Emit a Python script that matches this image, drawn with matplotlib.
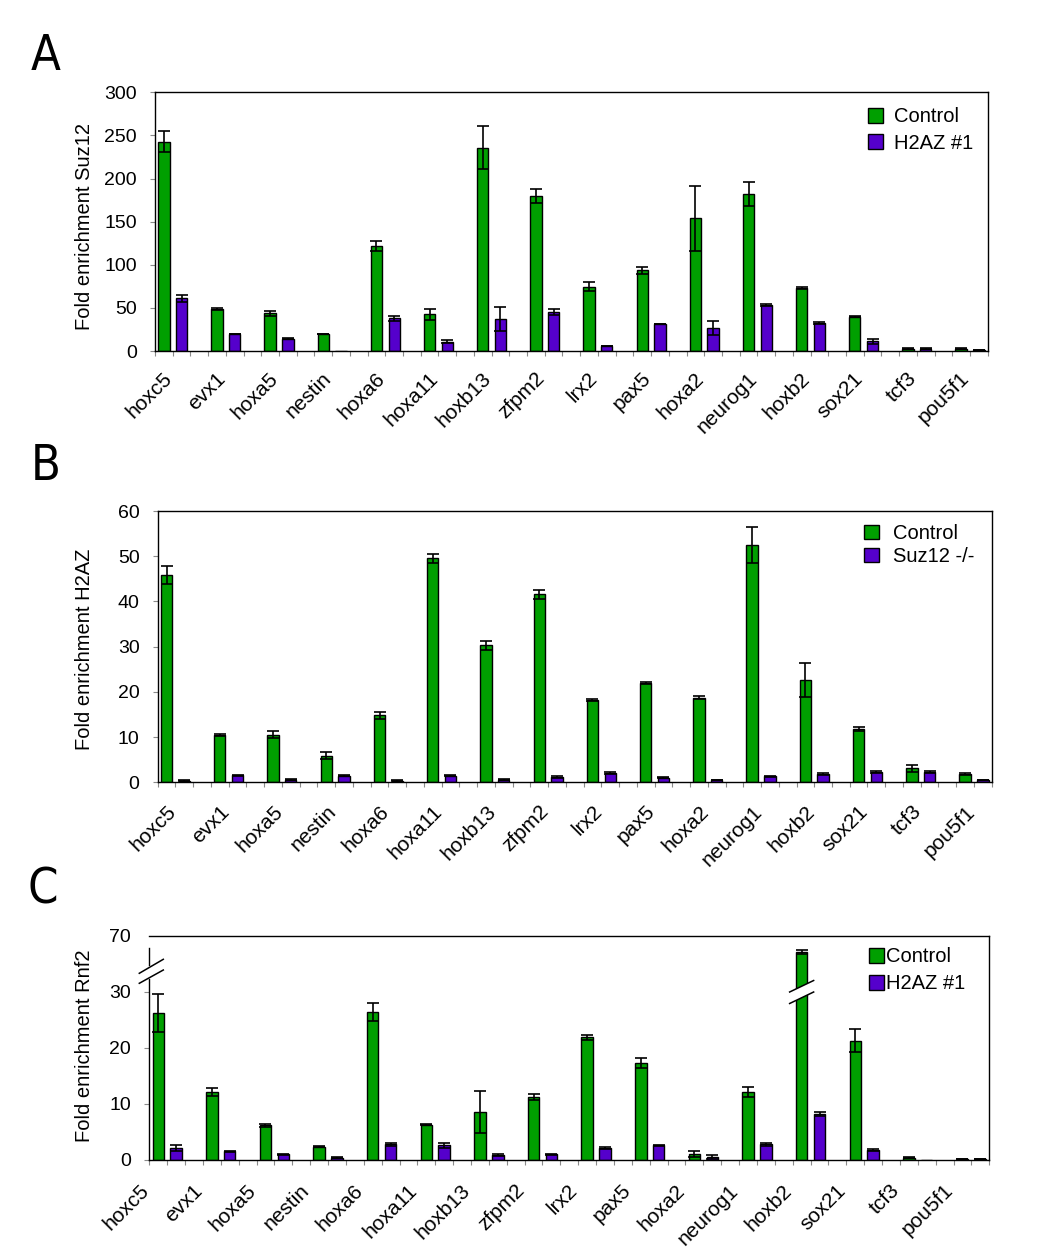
import numpy as np
import matplotlib
matplotlib.use('Agg')
import matplotlib.pyplot as plt
import matplotlib.transforms as mtransforms
from matplotlib.patches import Polygon
from matplotlib.lines import Line2D

# ---------------- data ----------------
genes = ['hoxc5', 'evx1', 'hoxa5', 'nestin', 'hoxa6', 'hoxa11', 'hoxb13', 'zfpm2',
         'lrx2', 'pax5', 'hoxa2', 'neurog1', 'hoxb2', 'sox21', 'tcf3', 'pou5f1']

# Panel A: Suz12 enrichment
a_control = [242.8, 48.7, 43.7, 19.7, 122.0, 42.5, 235.8, 180.0, 74.6, 93.5, 153.8, 182.0, 73.0, 39.8, 2.5, 2.5]
a_control_err = [12.0, 0.8, 3.0, 0.5, 6.0, 6.5, 25.0, 8.0, 5.0, 4.0, 38.0, 13.5, 1.0, 0.5, 0.5, 0.5]
a_h2az = [61.0, 19.7, 14.3, 0.0, 37.9, 11.0, 36.7, 45.2, 5.8, 31.3, 26.7, 53.7, 32.5, 11.2, 2.5, 1.0]
a_h2az_err = [4.0, 0.5, 0.5, 0.0, 3.0, 1.8, 14.0, 4.0, 0.5, 0.5, 7.7, 1.0, 1.0, 3.0, 0.5, 0.3]

# Panel B: H2AZ enrichment
b_control = [45.8, 10.4, 10.5, 5.9, 14.8, 49.5, 30.3, 41.6, 18.2, 22.0, 18.7, 52.4, 22.6, 11.8, 3.1, 1.8]
b_control_err = [2.0, 0.2, 0.8, 0.8, 0.8, 1.0, 1.0, 1.0, 0.2, 0.2, 0.3, 4.0, 3.7, 0.5, 0.8, 0.2]
b_suz12 = [0.3, 1.55, 0.6, 1.5, 0.3, 1.5, 0.6, 1.25, 2.0, 1.0, 0.5, 1.3, 1.8, 2.2, 2.2, 0.5]
b_suz12_err = [0.1, 0.1, 0.1, 0.1, 0.1, 0.1, 0.1, 0.2, 0.2, 0.1, 0.1, 0.1, 0.2, 0.2, 0.2, 0.1]

# Panel C: Rnf2 enrichment
c_control = [26.2, 12.2, 6.2, 2.4, 26.4, 6.3, 8.6, 11.3, 21.9, 17.3, 1.0, 12.2, 58.4, 21.3, 0.4, 0.2]
c_control_err = [3.4, 0.7, 0.3, 0.1, 1.6, 0.1, 3.8, 0.5, 0.4, 0.9, 0.55, 0.9, 1.6, 2.1, 0.05, 0.05]
c_h2az = [2.15, 1.55, 1.0, 0.4, 2.8, 2.6, 0.9, 1.0, 2.15, 2.6, 0.5, 2.8, 8.2, 1.8, 0.0, 0.2]
c_h2az_err = [0.5, 0.1, 0.1, 0.1, 0.3, 0.5, 0.2, 0.1, 0.1, 0.1, 0.4, 0.3, 0.4, 0.2, 0.0, 0.05]

a_yticks = [0, 50, 100, 150, 200, 250, 300]
b_yticks = [0, 10, 20, 30, 40, 50, 60]
c_yticks = [0, 10, 20, 30, 70]

GREEN = '#009F00'
PURPLE = '#5500CC'
TICKGRAY = '#8a8a8a'

plt.rcParams['font.family'] = ['Liberation Sans', 'DejaVu Sans']

W, H = 1050, 1254
fig = plt.figure(figsize=(W / 100, H / 100), dpi=100)


def fx(px):
    return px / W


def fy(py):
    return 1 - py / H


def panel(rect, ctrl, ctrl_err, trt, trt_err, yticks, ylabel, ylabel_y,
          leg_labels, leg_pos, leg_kw, lab_shift, lab_pad, scale=None):
    ax = fig.add_axes(rect)
    if scale is not None:
        ax.set_yscale(scale[0], functions=scale[1])
    n = len(genes)
    xg = np.arange(n) * 3
    xp = xg + 1
    w = 0.64
    b1 = ax.bar(xg, ctrl, w, color=GREEN, edgecolor='black', linewidth=1.0, zorder=2)
    b2 = ax.bar(xp, trt, w, color=PURPLE, edgecolor='black', linewidth=1.0, zorder=2)
    for xs, vs, es in ((xg, ctrl, ctrl_err), (xp, trt, trt_err)):
        for x, v, e in zip(xs, vs, es):
            if e > 0:
                ax.errorbar(x, v, yerr=e, fmt='none', ecolor='black', elinewidth=1.2,
                            capsize=4.2, capthick=1.2, zorder=3)
    ax.set_yticks(yticks)
    ax.set_xticks(np.arange(-0.5, 3 * n - 1.0, 1.0))
    ax.set_xticklabels([])
    ax.set_xlim(-0.5, 3 * n - 1.5)
    ax.set_ylim(yticks[0], yticks[-1])
    ax.tick_params(axis='x', which='major', direction='out', length=3.6, width=0.8,
                   color=TICKGRAY)
    ax.tick_params(axis='y', direction='out', length=3.6, width=0.8, color=TICKGRAY,
                   pad=9.5, labelsize=14)
    # category labels (rotated), anchored below the x axis
    tr = ax.get_xaxis_transform() + mtransforms.ScaledTranslation(0, -lab_pad / 72,
                                                                  fig.dpi_scale_trans)
    for x, g in zip(xg, genes):
        ax.text(x + lab_shift, 0, g, transform=tr, rotation=45, ha='right', va='top',
                rotation_mode='anchor', fontsize=15, clip_on=False)
    for s in ax.spines.values():
        s.set_linewidth(1.0)
        s.set_color('black')
    fig.text(fx(85), fy(ylabel_y), ylabel, rotation=90, ha='center', va='center',
             fontsize=14.5)
    ax.legend([b1, b2], leg_labels, loc='center left', bbox_to_anchor=leg_pos,
              bbox_transform=fig.transFigure, frameon=False, borderpad=0,
              borderaxespad=0, handlelength=0.75, handleheight=0.75, fontsize=14.5,
              **leg_kw)
    return ax, xg


# Panel A
axA, xgA = panel([fx(155), fy(351), fx(987.7 - 155), (351 - 92.3) / H],
                 a_control, a_control_err, a_h2az, a_h2az_err, a_yticks,
                 'Fold enrichment Suz12', 226, ['Control', 'H2AZ #1'],
                 (fx(867.7), fy(130)), dict(handletextpad=0.55, labelspacing=0.35),
                 -0.08, 12.8)

# Panel B
axB, xgB = panel([fx(157.7), fy(782.3), fx(991.7 - 157.7), (782.3 - 511) / H],
                 b_control, b_control_err, b_suz12, b_suz12_err, b_yticks,
                 'Fold enrichment H2AZ', 649, ['Control', 'Suz12 -/-'],
                 (fx(863.7), fy(545)), dict(handletextpad=0.7, labelspacing=0.2),
                 0.0, 14.2)


# Panel C with broken axis (0-30 linear, 30-70 compressed)
def fwd(y):
    y = np.asarray(y, dtype=float)
    return np.where(y <= 30, y, 30 + (y - 30) * 0.25)


def inv(t):
    t = np.asarray(t, dtype=float)
    return np.where(t <= 30, t, 30 + (t - 30) * 4.0)


axC, xgC = panel([fx(149.3), fy(1160), fx(989.3 - 149.3), (1160 - 936) / H],
                 c_control, c_control_err, c_h2az, c_h2az_err, c_yticks,
                 'Fold enrichment Rnf2', 1046, ['Control', 'H2AZ #1'],
                 (fx(869), fy(970.3)), dict(handletextpad=0.1, labelspacing=0.4),
                 -1.08, 15.0, scale=('function', (fwd, inv)))
axC.yaxis.get_major_ticks()[-1].tick1line.set_visible(False)
axC.spines['left'].set_visible(False)

ident = mtransforms.IdentityTransform()
x0, y0 = axC.transAxes.transform((0, 0))
_, y1 = axC.transAxes.transform((0, 1))
# left spine pieces
fig.add_artist(Line2D([x0, x0], [y0, y1 - 43], color='black', lw=1.0, transform=ident))
fig.add_artist(Line2D([x0, x0], [y1 - 29, y1 - 12], color='black', lw=1.0, transform=ident))
# break marks on left spine
l1 = [(x0 - 10, y1 - 37.3), (x0 + 14, y1 - 23.3)]
l2 = [(x0 - 10, y1 - 47.3), (x0 + 14, y1 - 34.0)]
for ln in (l1, l2):
    fig.add_artist(Line2D([ln[0][0], ln[1][0]], [ln[0][1], ln[1][1]], color='black',
                          lw=1.1, transform=ident))

# break marks on the tall hoxb2 bar
bx, by = axC.transData.transform((xgC[genes.index('hoxb2')], 30))
poly = Polygon([(bx - 12, by), (bx + 12, by + 11.5), (bx + 12, by), (bx - 12, by - 11.5)],
               closed=True, facecolor='white', edgecolor='none', transform=ident, zorder=5)
fig.add_artist(poly)
fig.add_artist(Line2D([bx - 12, bx + 12], [by, by + 11.5], color='black', lw=1.1,
                      transform=ident, zorder=6))
fig.add_artist(Line2D([bx - 12, bx + 12], [by - 11.5, by], color='black', lw=1.1,
                      transform=ident, zorder=6))

# panel letters
fig.text(fx(45.5), fy(55.5), 'A', fontsize=35, family='DejaVu Sans', stretch='condensed',
         ha='center', va='center')
fig.text(fx(46), fy(466), 'B', fontsize=35, family='DejaVu Sans', stretch='condensed',
         ha='center', va='center')
fig.text(fx(42.5), fy(890), 'C', fontsize=35, family='DejaVu Sans', stretch='condensed',
         ha='center', va='center')

fig.savefig('out.png', dpi=100)
